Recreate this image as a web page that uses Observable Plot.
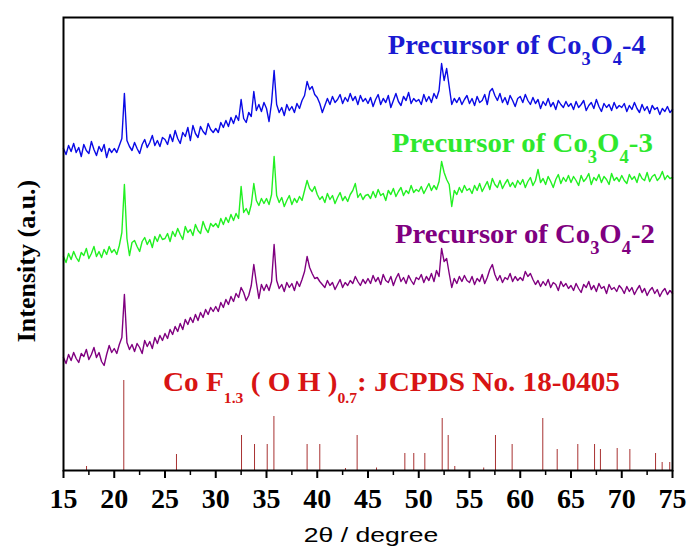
<!DOCTYPE html>
<html><head><meta charset="utf-8">
<script src="https://cdn.jsdelivr.net/npm/d3@7"></script>
<script src="https://cdn.jsdelivr.net/npm/@observablehq/plot@0.6"></script>
<style>body{margin:0;background:#fff} svg{display:block}</style>
</head><body><div id="chart"></div>
<script>
// 2θ sampling grid: 15° to 75° every 0.25°
const angleStart = 15, angleStep = 0.25;

// Precursor of Co3O4-4 (blue), intensity a.u. (offset)
const blue = [
322,316,325,319,327,318,323,314,326,320,317,329,321,315,324,319,326,313,322,318,
322,318,325,332,377,330,324,320,328,322,317,326,331,323,328,335,325,330,324,333,
331,326,336,329,340,332,327,338,334,343,330,345,337,333,344,339,336,347,341,338,
342,338,348,343,350,344,353,347,355,350,371,352,348,358,354,379,360,366,359,368,
362,349,368,400,366,358,363,355,366,360,364,358,367,362,370,375,389,381,384,376,
373,367,358,365,372,366,374,368,371,376,367,373,369,377,370,374,366,375,369,372,
367,373,364,371,376,366,372,368,375,363,370,377,369,365,374,370,378,367,372,369,
371,366,376,369,374,368,377,372,380,407,390,402,384,366,372,368,373,366,371,375,
367,372,365,374,368,370,376,366,379,382,375,370,377,368,373,366,375,370,364,372,
374,368,376,370,366,373,367,371,362,369,365,372,364,368,361,370,366,363,369,364,
367,361,369,363,366,370,360,365,368,362,371,364,359,367,363,366,360,368,362,365,
363,367,359,365,361,368,362,358,366,360,364,357,365,361,363,356,362,359,364,358,
361];

// Precursor of Co3O4-3 (green)
const green = [
214,208,217,211,219,213,209,218,215,222,212,217,224,214,219,213,221,216,224,218,
221,216,225,238,286,232,215,228,230,224,219,229,233,226,231,223,234,229,236,231,
232,237,229,239,234,242,236,231,244,238,241,235,246,240,237,249,242,238,247,244,
247,243,252,246,253,248,256,250,257,252,284,258,262,256,266,287,270,265,272,267,
272,266,276,314,275,268,273,264,270,275,266,272,268,274,270,280,290,282,279,284,
276,271,274,268,277,271,275,267,273,278,270,274,269,276,280,287,273,277,271,275,
276,272,279,273,281,275,277,270,280,276,282,274,279,283,275,280,277,285,278,281,
279,284,277,282,287,280,285,281,289,309,298,291,286,264,280,276,283,278,285,280,
282,277,285,280,287,279,284,289,281,292,286,283,290,282,287,291,284,288,283,290,
286,291,283,289,293,285,290,301,288,292,286,294,289,283,291,296,287,293,289,295,
288,294,290,285,295,289,292,297,286,293,290,296,288,294,291,286,297,290,293,289,
295,290,287,296,291,294,288,297,292,290,298,289,294,296,290,293,299,291,295,292,
293];

// Precursor of Co3O4-2 (purple)
const purple = [
113,107,116,110,118,112,108,117,114,121,111,116,123,113,118,109,105,116,125,118,
122,117,126,133,176,128,121,126,119,127,123,117,130,124,129,122,133,127,135,130,
137,132,141,136,144,139,147,141,151,146,153,148,156,150,158,153,161,156,163,159,
164,159,168,163,171,166,174,169,177,173,183,178,170,175,185,206,188,172,186,180,
186,180,189,226,190,182,186,179,188,183,187,180,189,184,191,199,214,203,197,192,
193,189,186,183,190,185,188,181,186,191,183,188,185,190,187,194,189,185,191,187,
192,187,195,189,193,186,196,190,188,194,185,192,197,189,193,187,195,190,186,193,
191,196,188,194,190,197,189,200,194,222,209,212,197,183,192,187,194,189,195,190,
188,194,186,192,189,196,187,193,201,206,196,190,195,188,193,191,197,189,194,190,
193,190,199,194,197,191,186,190,184,189,185,191,183,188,186,180,189,184,187,182,
185,180,187,182,178,186,183,189,181,185,179,187,182,184,177,186,181,183,179,185,
182,177,184,179,183,176,181,185,178,182,175,180,183,177,181,174,179,182,176,180,
177];

// CoF1.3(OH)0.7 JCPDS No. 18-0405 reference lines
const refAngles  = [17.27,20.94,26.13,32.54,33.82,35.07,35.73,39.0,40.25,42.78,43.93,45.84,48.63,49.51,50.6,52.31,52.9,53.55,56.4,57.56,59.2,62.22,63.64,65.67,67.32,67.9,69.55,70.8,73.33,73.98,74.73];
const refHeights = [4,90,16,35,26,26,54,26,26,2,35,2.5,17,17,17,52,35,4,2.5,35,26,52,21,26,26,21,22,21,17,8,8];

const majorTicks = [15,20,25,30,35,40,45,50,55,60,65,70,75];
const minorTicks = [17.5,22.5,27.5,32.5,37.5,42.5,47.5,52.5,57.5,62.5,67.5,72.5];

const toRows = arr => arr.map((v, i) => ({a: angleStart + angleStep * i, v}));
const refRows = refAngles.map((a, i) => ({a, h: refHeights[i]}));

const serif = "Liberation Serif";
const plot = Plot.plot({
  width: 688, height: 549,
  marginLeft: 63, marginRight: 16, marginTop: 17, marginBottom: 79,
  style: {background: "#fff"},
  x: {domain: [15, 75]},
  y: {domain: [0, 453], axis: null},
  marks: [
    Plot.ruleX(refRows, {x: "a", y1: 0, y2: "h", stroke: "#a83232", strokeWidth: 1}),
    Plot.line(toRows(purple), {x: "a", y: "v", stroke: "#800080", strokeWidth: 1.4}),
    Plot.line(toRows(green), {x: "a", y: "v", stroke: "#22f022", strokeWidth: 1.4}),
    Plot.line(toRows(blue), {x: "a", y: "v", stroke: "#0a0ae6", strokeWidth: 1.4}),
    Plot.axisX(majorTicks, {tickSize: 8, label: null, stroke: "black", strokeWidth: 2, tickFormat: () => ""}),
    Plot.axisX(minorTicks, {tickSize: 5, label: null, tickFormat: () => "", stroke: "black", strokeWidth: 1.5}),
    Plot.text(majorTicks, {x: d => d, y: 0, text: d => String(d), lineAnchor: "top", dy: 18,
      fontFamily: serif, fontWeight: "bold", fontSize: 28, fill: "black"}),
    Plot.frame({stroke: "black", strokeWidth: 2})
  ]
});
document.getElementById("chart").appendChild(plot);

const sx = plot.scale("x"), sy = plot.scale("y");
const svg = d3.select(plot);

function label(parts, angle, val, color, size, len, subSize, subDy) {
  const t = svg.append("text")
    .attr("x", sx.apply(angle)).attr("y", sy.apply(val))
    .attr("text-anchor", "start")
    .attr("fill", color).attr("font-family", serif).attr("font-weight", "bold")
    .attr("font-size", size)
    .attr("textLength", len).attr("lengthAdjust", "spacingAndGlyphs");
  let down = false;
  for (const p of parts) {
    const sp = t.append("tspan").text(p.t);
    if (p.sub) { sp.attr("font-size", subSize).attr("dy", subDy); down = true; }
    else if (down) { sp.attr("dy", -subDy); down = false; }
  }
}
label([{t:"Precursor of Co"},{t:"3",sub:true},{t:"O"},{t:"4",sub:true},{t:"-4"}], 47.0, 469-53, "#1a1ad2", 28, 258, 18, 11);
label([{t:"Precursor of Co"},{t:"3",sub:true},{t:"O"},{t:"4",sub:true},{t:"-3"}], 47.4, 469-151, "#2ee82e", 28, 261, 18, 11);
label([{t:"Precursor of Co"},{t:"3",sub:true},{t:"O"},{t:"4",sub:true},{t:"-2"}], 47.7, 469-242, "#800080", 28, 260, 18, 11);
label([{t:"Co F"},{t:"1.3",sub:true},{t:" ( O H )"},{t:"0.7",sub:true},{t:": JCPDS No. 18-0405"}], 24.85, 469-390, "#d81414", 28, 457, 15, 12);

// axis titles
svg.append("text").attr("transform", "translate(371,542) scale(1.33,1)").attr("text-anchor", "middle")
  .attr("font-family", "Liberation Sans").attr("font-size", 20)
  .attr("fill", "black").text("2θ / degree");
svg.append("text").attr("transform", "translate(35,261) rotate(-90)").attr("text-anchor", "middle")
  .attr("font-family", serif).attr("font-weight", "bold").attr("font-size", 26)
  .attr("fill", "black").text("Intensity (a.u.)");
</script></body></html>
